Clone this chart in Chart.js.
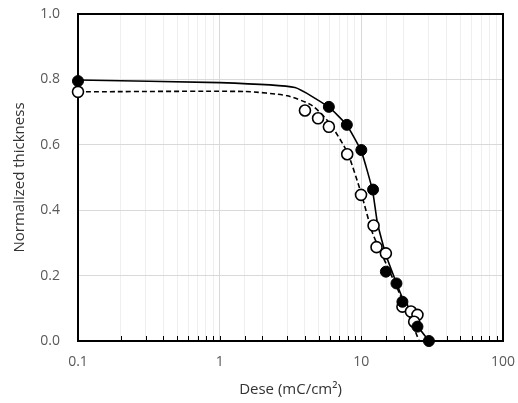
<!DOCTYPE html>
<html>
<head>
<meta charset="utf-8">
<script src="https://cdn.jsdelivr.net/npm/chart.js@4/dist/chart.umd.min.js"></script>
<style>
  html, body { margin: 0; padding: 0; background: #fff; }
  #wrap { width: 518px; height: 403px; position: relative; }
</style>
</head>
<body>
<div id="wrap"><canvas id="chart" width="518" height="403"></canvas></div>
<script>
// filled circles (measured)
const filledX = [0.1, 5.9, 7.9, 10.0, 12.1, 14.9, 17.7, 19.5, 24.9, 30.0];
const filledY = [0.795, 0.716, 0.661, 0.584, 0.463, 0.212, 0.176, 0.12, 0.044, 0.0];
// open circles
const openX = [0.1, 4.0, 4.95, 5.9, 7.95, 9.95, 12.2, 12.8, 14.9, 19.5, 22.4, 24.9, 23.6];
const openY = [0.762, 0.705, 0.681, 0.655, 0.571, 0.447, 0.353, 0.287, 0.268, 0.105, 0.09, 0.08, 0.059];
// fitted curves
const solidX = [0.1, 1, 3.4, 5.9, 7.9, 10, 12, 13, 15, 20, 25, 30];
const solidY = [0.798, 0.79, 0.775, 0.715, 0.66, 0.58, 0.46, 0.36, 0.26, 0.12, 0.045, 0.0];
const dashX = [0.1, 1.5, 3, 4.5, 6, 8, 10, 12, 15, 20, 25.6];
const dashY = [0.762, 0.763, 0.75, 0.72, 0.665, 0.575, 0.45, 0.33, 0.235, 0.115, 0.0];

const xMin = 0.1, xMax = 100;
const yTicks = [0, 0.2, 0.4, 0.6, 0.8, 1.0];

const pts = (xs, ys) => xs.map((x, i) => ({ x, y: ys[i] }));
const isMajor = (v) => Math.abs(Math.log10(v) - Math.round(Math.log10(v))) < 1e-6;

const frame = {
  id: 'frame',
  beforeDatasetsDraw(chart) {
    const { ctx, chartArea: a, scales } = chart;
    ctx.save();
    // inside tick marks on x axis
    ctx.strokeStyle = '#000';
    ctx.lineWidth = 1;
    scales.x.ticks.forEach((t) => {
      const px = Math.round(scales.x.getPixelForValue(t.value)) + 0.5;
      ctx.beginPath();
      ctx.moveTo(px, a.bottom);
      ctx.lineTo(px, a.bottom - 5);
      ctx.stroke();
    });
    ctx.lineWidth = 2;
    ctx.strokeRect(a.left, a.top, a.right - a.left, a.bottom - a.top);
    ctx.restore();
  }
};

const noPad = (scale) => {
  scale.paddingTop = 0;
  scale.paddingBottom = 0;
  scale.paddingLeft = 0;
  scale.paddingRight = 0;
};

new Chart(document.getElementById('chart'), {
  type: 'scatter',
  data: {
    datasets: [
      {
        data: pts(solidX, solidY),
        showLine: true,
        borderColor: '#000',
        borderWidth: 1.6,
        pointRadius: 0,
        tension: 0.15,
        order: 3
      },
      {
        data: pts(dashX, dashY),
        showLine: true,
        borderColor: '#000',
        borderWidth: 1.6,
        borderDash: [5, 3],
        pointRadius: 0,
        tension: 0.2,
        order: 3
      },
      {
        data: pts(openX, openY),
        pointRadius: 5.5,
        pointBorderWidth: 1.6,
        pointBackgroundColor: '#fff',
        pointBorderColor: '#000',
        clip: false,
        order: 2
      },
      {
        data: pts(filledX, filledY),
        pointRadius: 5.5,
        pointBorderWidth: 1,
        pointBackgroundColor: '#000',
        pointBorderColor: '#000',
        clip: false,
        order: 1
      }
    ]
  },
  options: {
    responsive: false,
    animation: false,
    layout: { padding: { top: 14, right: 15, left: 0, bottom: 0 } },
    plugins: { legend: { display: false }, tooltip: { enabled: false } },
    scales: {
      x: {
        type: 'logarithmic',
        min: xMin,
        max: xMax,
        afterFit(scale) { scale.height = 62; noPad(scale); },
        border: { display: false },
        grid: {
          drawTicks: false,
          color: (c) => (c.tick && isMajor(c.tick.value) ? '#d9d9d9' : '#efefef')
        },
        ticks: {
          autoSkip: false,
          maxRotation: 0,
          padding: 13,
          color: '#595959',
          font: { family: 'Open Sans', size: 14 },
          callback: (v) => (isMajor(v) ? String(Number(v)) : '')
        },
        title: {
          display: true,
          text: 'Dese (mC/cm²)',
          color: '#333',
          font: { family: 'Open Sans', size: 15 },
          padding: { top: 4, bottom: 4 }
        }
      },
      y: {
        min: 0,
        max: 1,
        afterFit(scale) { scale.width = 78; noPad(scale); },
        afterBuildTicks(scale) { scale.ticks = yTicks.map((v) => ({ value: v })); },
        border: { display: false },
        grid: { drawTicks: false, color: '#d9d9d9' },
        ticks: {
          padding: 18,
          color: '#595959',
          font: { family: 'Open Sans', size: 14 },
          callback: (v) => Number(v).toFixed(1)
        },
        title: {
          display: true,
          text: 'Normalized thickness',
          color: '#333',
          font: { family: 'Open Sans', size: 15 },
          padding: { top: 11, bottom: 4 }
        }
      }
    }
  },
  plugins: [frame]
});
</script>
</body>
</html>
